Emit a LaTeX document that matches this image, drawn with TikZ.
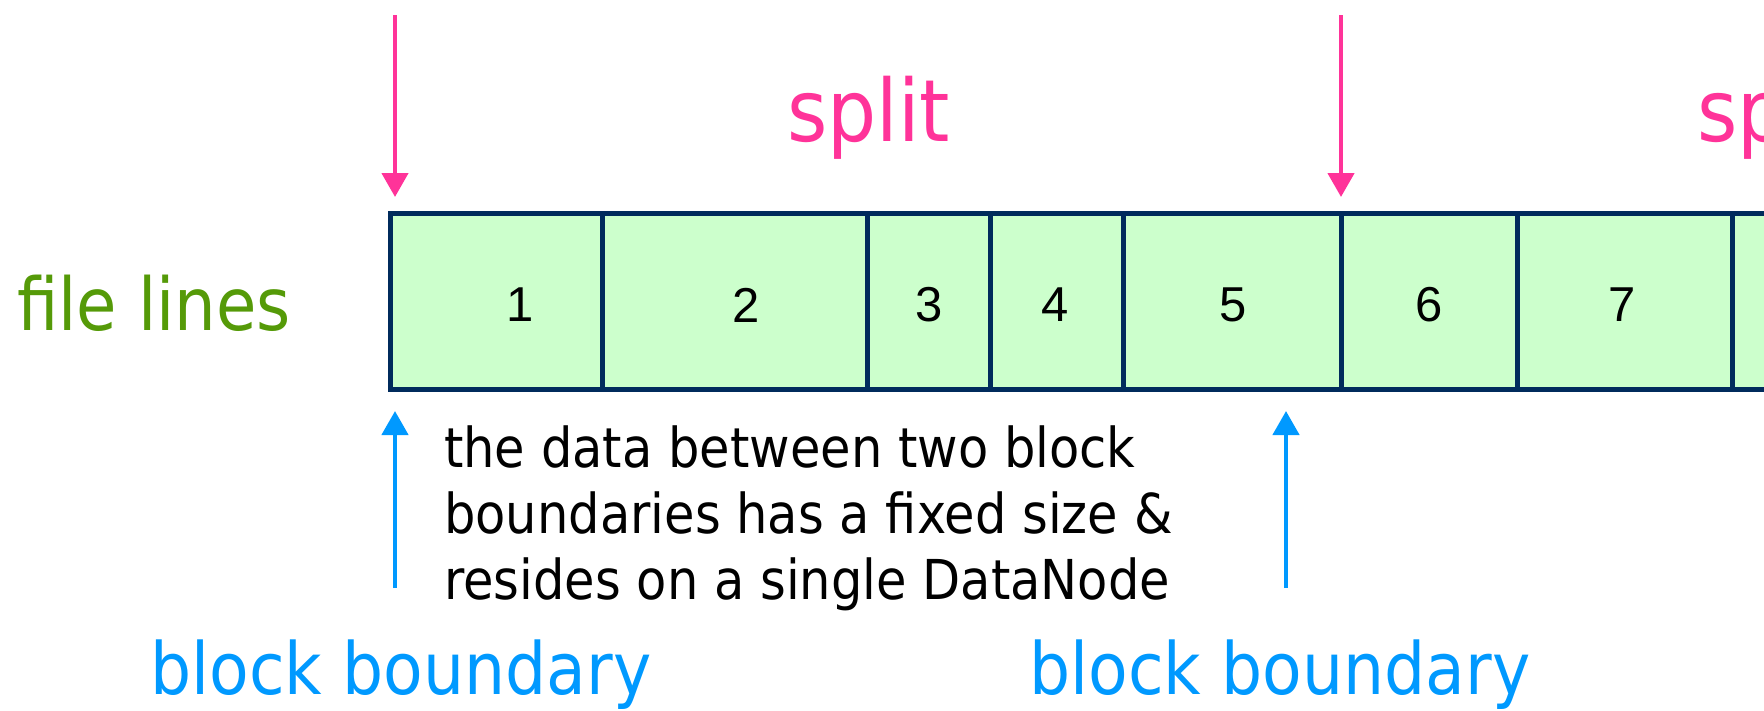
\documentclass[tikz,border=0pt]{standalone}
\usepackage{fontspec}
\setmainfont{DejaVu Sans}[FakeStretch=0.9]
\newfontfamily\digitfont{Liberation Sans}
\usetikzlibrary{arrows.meta}
\definecolor{splitpink}{HTML}{FF3399}
\definecolor{blockblue}{HTML}{0099FF}
\definecolor{linegreen}{HTML}{559A08}
\definecolor{cellfill}{HTML}{CCFFCC}
\definecolor{cellline}{HTML}{002B5C}
\begin{document}
\begin{tikzpicture}[x=1pt,y=1pt,
  cell/.style={draw=cellline, line width=5pt, fill=cellfill, inner sep=0pt, outer sep=0pt,
    minimum height=176pt, anchor=west},
  num/.style={font=\digitfont\fontsize{49}{49}\selectfont, inner sep=0pt},
  splitlabel/.style={text=splitpink, font=\fontsize{86}{86}\selectfont, inner sep=0pt, anchor=base west},
  blocklabel/.style={text=blockblue, font=\fontsize{72}{72}\selectfont, inner sep=0pt, anchor=base west},
  splitarrow/.style={draw=splitpink, line width=4.5pt, -{Triangle[width=26pt,length=24pt]}},
  blockarrow/.style={draw=blockblue, line width=4.5pt, -{Triangle[width=26pt,length=24pt]}}]
\useasboundingbox (0,0) rectangle (1764,-710);
\clip (0,0) rectangle (1764,-710);

% the line cells of the file
\node[cell, minimum width=212pt] (b1) at (390,-301) {};
\node[cell, minimum width=265pt] (b2) at (602,-301) {};
\node[cell, minimum width=123pt] (b3) at (867,-301) {};
\node[cell, minimum width=133pt] (b4) at (990,-301) {};
\node[cell, minimum width=218pt] (b5) at (1123,-301) {};
\node[cell, minimum width=176pt] (b6) at (1341,-301) {};
\node[cell, minimum width=215pt] (b7) at (1517,-301) {};
\node[cell, minimum width=200pt] (b8) at (1732,-301) {};

% line numbers
\node[num] (n1) at (520,-305) {1};
\node[num] (n2) at (746,-305) {2};
\node[num] (n3) at (929,-305) {3};
\node[num] (n4) at (1055,-305) {4};
\node[num] (n5) at (1233,-305) {5};
\node[num] (n6) at (1429,-305) {6};
\node[num] (n7) at (1622,-305) {7};

% left caption
\node[text=linegreen, font=\fontsize{73}{73}\selectfont, inner sep=0pt, anchor=base west]
  (fl) at (17,-330) {file lines};

% split markers
\node[splitlabel] (sp1) at (787,-141) {split};
\node[splitlabel] (sp2) at (1697,-141) {split};
\coordinate (ps1) at (395,-15);
\coordinate (ps2) at (1341,-15);
\draw[splitarrow] (ps1) -- ([xshift=5pt,yshift=16pt]b1.north west);
\draw[splitarrow] (ps2) -- ([yshift=16pt]b6.north west);

% block boundaries
\coordinate (pb1) at (395,-588);
\coordinate (pb2) at (1286,-588);
\draw[blockarrow] (pb1) -- ([xshift=5pt,yshift=-22pt]b1.south west);
\draw[blockarrow] (pb2) -- ([xshift=-55pt,yshift=-22pt]b5.south east);
\node[blocklabel] (bb1) at (150,-694) {block boundary};
\node[blocklabel] (bb2) at (1029,-694) {block boundary};

% explanation (base anchor sits on the last line)
\node[anchor=base west, align=left, inner sep=0pt,
  font=\fontsize{55}{66}\selectfont] (note) at (444,-599)
  {the data between two block\\boundaries has a fixed size \&\\resides on a single DataNode};
\end{tikzpicture}
\end{document}
